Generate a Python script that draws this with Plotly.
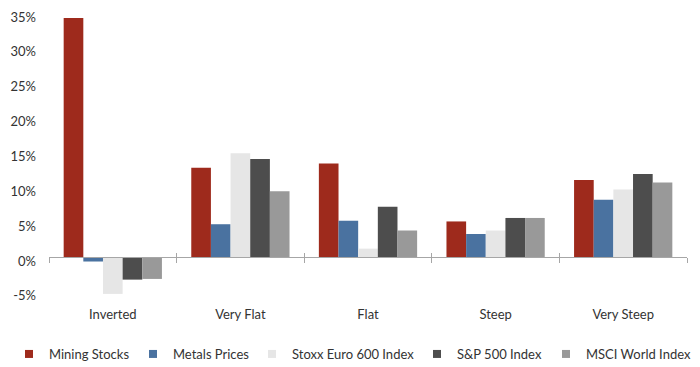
import plotly.graph_objects as go

categories = ["Inverted", "Very Flat", "Flat", "Steep", "Very Steep"]
series_names = ["Mining Stocks", "Metals Prices", "Stoxx Euro 600 Index", "S&P 500 Index", "MSCI World Index"]
mining = [34.3, 12.8, 13.4, 5.1, 11.05]
metals = [-0.65, 4.7, 5.2, 3.3, 8.2]
stoxx = [-5.3, 14.9, 1.2, 3.8, 9.7]
sp500 = [-3.25, 14.05, 7.2, 5.6, 11.9]
msci = [-3.15, 9.45, 3.8, 5.6, 10.7]
colors = ["#9E2A1C", "#4A72A0", "#E6E6E6", "#4D4D4D", "#999999"]
ytick_vals = [-5, 0, 5, 10, 15, 20, 25, 30, 35]
ytick_text = ["-5%", "0%", "5%", "10%", "15%", "20%", "25%", "30%", "35%"]
legend_text_x = [50, 174, 293, 458, 587]

W, H = 700, 367
OFF = 8  # page body offset of the figure inside the window
ymin, ymax = -5.6, 35.3
zero_pos = (0 - ymin) / (ymax - ymin)
font = "Lato, 'Open Sans', sans-serif"
txt = "#333333"

fig = go.Figure()
legend_ids = ["legend", "legend2", "legend3", "legend4", "legend5"]
for name, vals, c, lid in zip(series_names, [mining, metals, stoxx, sp500, msci], colors, legend_ids):
    fig.add_trace(go.Bar(x=categories, y=vals, name=name, marker=dict(color=c, line=dict(width=0)),
                         cliponaxis=False, showlegend=False, legendgroup=name))
    fig.add_trace(go.Scatter(x=[None], y=[None], mode="markers", name=name, legendgroup=name,
                             marker=dict(symbol="square", size=8, color=c), legend=lid,
                             showlegend=True))

boundaries = [i - 0.5 for i in range(len(categories) + 1)]
fig.add_trace(go.Scatter(x=[], y=[], xaxis="x2", showlegend=False))
fig.add_trace(go.Scatter(x=[], y=[], xaxis="x3", showlegend=False))

legend_y = (H - (354 - OFF)) / H
layout_legends = {}
for lid, tx in zip(legend_ids, legend_text_x):
    layout_legends[lid] = dict(orientation="h", xref="container", yref="container",
                               x=(tx - OFF - 41) / W, xanchor="left", y=legend_y, yanchor="middle",
                               font=dict(size=13, color=txt), itemwidth=30,
                               bgcolor="rgba(0,0,0,0)")

fig.update_layout(
    width=W, height=H,
    margin=dict(l=49 - OFF, r=21, t=1, b=79),
    paper_bgcolor="white", plot_bgcolor="white",
    barmode="group", bargap=0.23, bargroupgap=0,
    font=dict(family=font, size=13, color=txt),
    xaxis=dict(showline=False, showgrid=False, zeroline=False, ticks="",
               tickfont=dict(size=13, color=txt), ticklabelstandoff=9),
    xaxis2=dict(overlaying="x", anchor="free", position=zero_pos, range=[-0.5, len(categories) - 0.5],
                showline=True, linecolor="#A6A6A6", linewidth=1, showgrid=False, zeroline=False,
                tickvals=boundaries, showticklabels=False, ticks="outside", ticklen=5,
                tickcolor="#A6A6A6", tickwidth=1),
    xaxis3=dict(overlaying="x", anchor="free", position=zero_pos, range=[-0.5, len(categories) - 0.5],
                showline=False, showgrid=False, zeroline=False,
                tickvals=boundaries, showticklabels=False, ticks="inside", ticklen=4,
                tickcolor="#A6A6A6", tickwidth=1),
    yaxis=dict(range=[ymin, ymax], showgrid=False, zeroline=False, showline=False,
               tickvals=ytick_vals, ticktext=ytick_text, ticks="",
               tickfont=dict(size=13, color=txt), ticklabelstandoff=12, ticklabelshift=4,
               ticklabeloverflow="allow"),
    showlegend=True,
    **layout_legends,
)

fig.write_html("out.html")
